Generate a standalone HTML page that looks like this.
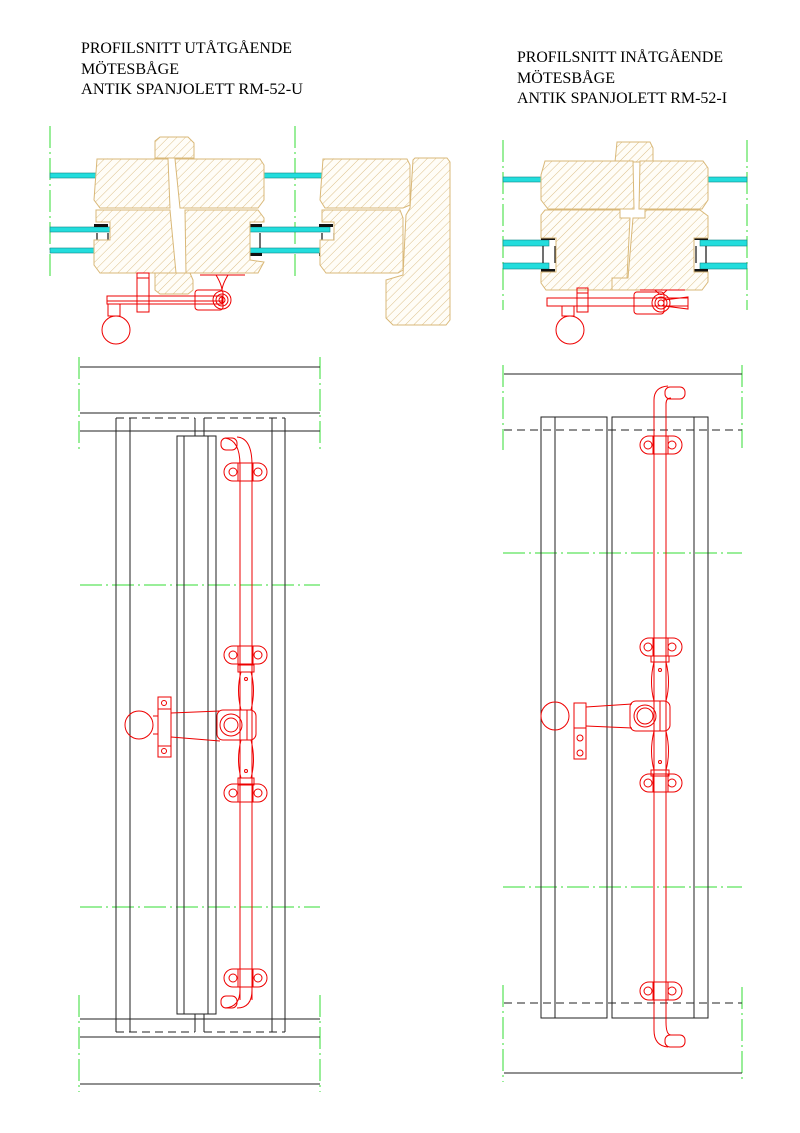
<!DOCTYPE html>
<html><head><meta charset="utf-8"><style>
html,body{margin:0;padding:0;background:#fff}
svg{display:block}
text{font-family:"Liberation Serif",serif;font-size:16px;fill:#000}
</style></head><body>
<svg width="800" height="1133" viewBox="0 0 800 1133" xmlns="http://www.w3.org/2000/svg">
<defs>
<pattern id="h" patternUnits="userSpaceOnUse" width="6" height="6" patternTransform="rotate(45)">
<rect width="6" height="6" fill="#fffdf7"/><line x1="0" y1="0" x2="0" y2="6" stroke="#dcc08a" stroke-width="1"/>
</pattern>
</defs>

<!-- titles -->
<text x="81" y="53" textLength="211" lengthAdjust="spacingAndGlyphs">PROFILSNITT UTÅTGÅENDE</text>
<text x="81" y="74" textLength="98" lengthAdjust="spacingAndGlyphs">MÖTESBÅGE</text>
<text x="81" y="94" textLength="222" lengthAdjust="spacingAndGlyphs">ANTIK SPANJOLETT RM-52-U</text>
<text x="517" y="62" textLength="206" lengthAdjust="spacingAndGlyphs">PROFILSNITT INÅTGÅENDE</text>
<text x="517" y="83" textLength="98" lengthAdjust="spacingAndGlyphs">MÖTESBÅGE</text>
<text x="517" y="103" textLength="210" lengthAdjust="spacingAndGlyphs">ANTIK SPANJOLETT RM-52-I</text>

<!-- ============ LEFT PROFILE ============ -->
<g stroke="#33dd33" stroke-width="1" stroke-dasharray="22,4,2,4" fill="none">
<line x1="50" y1="126" x2="50" y2="278"/><line x1="295" y1="126" x2="295" y2="278"/>
<line x1="503" y1="140" x2="503" y2="310"/><line x1="747" y1="140" x2="747" y2="310"/>
</g>
<g fill="#22dddd" stroke="#118888" stroke-width="0.6">
<rect x="50" y="173" width="55" height="5"/><rect x="250" y="173" width="80" height="5"/>
<rect x="50" y="227" width="60" height="5"/><rect x="50" y="248" width="60" height="5"/>
<rect x="247" y="227" width="83" height="5"/><rect x="247" y="248" width="83" height="5"/>
<rect x="503" y="177" width="52" height="5"/><rect x="695" y="177" width="52" height="5"/>
<rect x="503" y="240" width="46" height="6"/><rect x="503" y="263" width="46" height="6"/>
<rect x="700" y="240" width="47" height="6"/><rect x="700" y="263" width="47" height="6"/>
</g>
<g fill="#ccc"><polygon points="97,172 108,158 108,172"/><polygon points="250,172 260,158 262,172"/><polygon points="323,172 334,158 334,172"/>
<polygon points="545,176 556,162 556,176"/><polygon points="694,162 706,176 694,176"/></g>
<g stroke="#111" stroke-width="1.2" fill="none">
<line x1="97" y1="233" x2="97" y2="248"/><line x1="108" y1="233" x2="108" y2="248"/>
<line x1="248" y1="233" x2="248" y2="248"/><line x1="260" y1="233" x2="260" y2="248"/>
<line x1="322" y1="233" x2="322" y2="248"/><line x1="334" y1="233" x2="334" y2="248"/>
<line x1="543" y1="246" x2="543" y2="263"/><line x1="555" y1="246" x2="555" y2="263"/>
<line x1="696" y1="246" x2="696" y2="263"/><line x1="706" y1="246" x2="706" y2="263"/>
</g>
<g fill="#111"><rect x="94" y="224" width="14" height="3"/><rect x="94" y="253" width="14" height="3"/>
<rect x="248" y="224" width="14" height="3"/><rect x="248" y="253" width="14" height="3"/>
<rect x="319" y="224" width="14" height="3"/><rect x="319" y="253" width="14" height="3"/>
<rect x="541" y="237" width="14" height="3"/><rect x="541" y="269" width="14" height="3"/>
<rect x="694" y="237" width="14" height="3"/><rect x="694" y="269" width="14" height="3"/></g>

<g fill="url(#h)" stroke="#d9b878" stroke-width="1">
<path d="M155,141 L160,137 L188,137 L194,143 L194,158 L155,158 Z"/>
<path d="M97,159 L168,159 L170,208 L100,208 L94,200 Z"/>
<path d="M175,159 L260,159 L264,165 L264,200 L258,208 L180,208 Z"/>
<path d="M96,210 L170,210 L176,273 L100,273 L94,265 L94,240 L110,240 L110,222 L96,222 Z"/>
<path d="M185,210 L258,210 L264,218 L264,222 L250,222 L250,260 L264,262 L258,273 L186,273 Z"/>
<path d="M155,273 L190,273 L193,280 L193,290 L188,294 L160,294 L155,290 Z"/>
<path d="M323,159 L407,159 L410,165 L410,205 L403,208 L325,208 L320,200 Z"/>
<path d="M322,210 L400,210 L403,218 L403,270 L398,273 L326,273 L320,265 L320,240 L334,240 L334,222 L322,222 Z"/>
<path d="M415,158 L447,158 L450,162 L450,320 L446,325 L393,325 L386,318 L386,280 L403,275 L406,215 L410,208 L413,160 Z"/>
<!-- right profile -->
<path d="M617,142 L650,142 L653,148 L653,162 L615,162 Z"/>
<path d="M545,161 L633,161 L634,209 L548,209 L541,200 L541,175 Z"/>
<path d="M640,161 L703,161 L708,168 L708,200 L702,209 L639,209 Z"/>
<path d="M545,210 L620,210 L620,218 L630,218 L627,278 L618,278 L618,290 L546,290 L541,283 L541,272 L556,272 L556,238 L541,238 L541,215 Z"/>
<path d="M645,210 L700,210 L708,216 L708,238 L694,238 L694,272 L708,272 L708,282 L702,290 L612,290 L612,278 L628,278 L633,218 L645,218 Z"/>
</g>

<!-- red handle left profile -->
<g stroke="#e00" stroke-width="1" fill="none">
<rect x="107" y="296" width="115" height="8"/>
<line x1="107" y1="301" x2="222" y2="301"/>
<rect x="137" y="273" width="12" height="39"/><line x1="137" y1="278" x2="149" y2="278"/>
<rect x="108" y="304" width="12" height="12"/>
<circle cx="116" cy="330" r="14"/>
<rect x="195" y="290" width="28" height="20" rx="3"/>
<circle cx="222" cy="300" r="9"/><circle cx="222" cy="300" r="6"/><circle cx="222" cy="300" r="3"/>
<line x1="200" y1="275" x2="245" y2="275"/><path d="M216,275 Q222,285 222,291 Q222,285 228,275"/>
<!-- right profile handle -->
<rect x="547" y="298" width="141" height="8"/>
<rect x="577" y="288" width="11" height="24"/><line x1="577" y1="293" x2="588" y2="293"/>
<rect x="562" y="306" width="12" height="10"/>
<circle cx="570" cy="330" r="14"/>
<rect x="634" y="292" width="30" height="22" rx="3"/>
<circle cx="661" cy="303" r="9"/><circle cx="661" cy="303" r="6"/><circle cx="661" cy="303" r="3"/>
<path d="M664,300 L688,297 L688,309 L664,306"/>
<line x1="640" y1="290" x2="685" y2="290"/><path d="M655,290 Q661,296 661,294 Q661,296 667,290"/>
</g>

<!-- ============ LEFT ELEVATION ============ -->
<g stroke="#33dd33" stroke-width="1" stroke-dasharray="22,4,2,4" fill="none">
<line x1="79" y1="357" x2="79" y2="450"/><line x1="320" y1="357" x2="320" y2="450"/>
<line x1="79" y1="995" x2="79" y2="1092"/><line x1="320" y1="995" x2="320" y2="1092"/>
<line x1="80" y1="585" x2="320" y2="585"/><line x1="80" y1="907" x2="320" y2="907"/>
<line x1="503" y1="365" x2="503" y2="450"/><line x1="742" y1="365" x2="742" y2="448"/>
<line x1="503" y1="985" x2="503" y2="1082"/><line x1="742" y1="987" x2="742" y2="1082"/>
<line x1="503" y1="553" x2="742" y2="553"/><line x1="503" y1="887" x2="742" y2="887"/>
</g>
<g stroke="#222" stroke-width="1" fill="none">
<line x1="80" y1="367" x2="320" y2="367"/><line x1="80" y1="413" x2="320" y2="413"/><line x1="80" y1="431" x2="320" y2="431"/>
<line x1="80" y1="1019" x2="320" y2="1019"/><line x1="80" y1="1037" x2="320" y2="1037"/><line x1="80" y1="1084" x2="320" y2="1084"/>
<line x1="116" y1="418" x2="116" y2="1032"/><line x1="130" y1="418" x2="130" y2="1032"/>
<line x1="272" y1="418" x2="272" y2="1032"/><line x1="285" y1="418" x2="285" y2="1032"/>
<line x1="195" y1="418" x2="195" y2="436"/><line x1="204" y1="418" x2="204" y2="436"/>
<line x1="195" y1="1014" x2="195" y2="1032"/><line x1="204" y1="1014" x2="204" y2="1032"/>
<rect x="177" y="436" width="39" height="578"/>
<line x1="184" y1="436" x2="184" y2="1014"/><line x1="208" y1="436" x2="208" y2="1014"/>
<g stroke-dasharray="8,5">
<line x1="116" y1="418" x2="195" y2="418"/><line x1="204" y1="418" x2="285" y2="418"/>
<line x1="116" y1="1032" x2="195" y2="1032"/><line x1="204" y1="1032" x2="285" y2="1032"/>
</g>
<!-- right elevation -->
<line x1="504" y1="374" x2="742" y2="374"/><line x1="504" y1="1073" x2="742" y2="1073"/>
<line x1="504" y1="430" x2="742" y2="430" stroke-dasharray="8,5"/>
<line x1="504" y1="1003" x2="742" y2="1003" stroke-dasharray="8,5"/>
<rect x="541" y="417" width="66" height="601"/><line x1="555" y1="417" x2="555" y2="1018"/>
<rect x="612" y="417" width="96" height="601"/><line x1="694" y1="417" x2="694" y2="1018"/>
</g>

<!-- red espagnolette left -->
<g stroke="#e00" stroke-width="1" fill="none">
<path d="M240,1000 L240,465 Q240,440 225,438"/>
<path d="M252,1000 L252,465 Q252,438 237,437"/>
<rect x="221" y="438" width="16" height="12" rx="5"/>
<path d="M240,960 L240,990 Q240,1007 225,1008"/><path d="M252,960 L252,990 Q252,1008 237,1008"/>
<rect x="221" y="996" width="16" height="12" rx="5"/>
<g id="plL">
<rect x="224" y="463" width="43" height="18" rx="9"/><rect x="238" y="463" width="15" height="18"/>
<circle cx="233" cy="472" r="4"/><circle cx="258" cy="472" r="4"/>
</g>
<use href="#plL" y="183"/><use href="#plL" y="321"/><use href="#plL" y="506"/>
<!-- center knob -->
<path d="M238,665 L254,665 L254,672 L238,672 Z"/>
<path d="M241,672 Q236,690 241,710 M251,672 Q256,690 251,710"/>
<path d="M241,740 Q236,760 241,778 M251,740 Q256,760 251,778"/>
<path d="M238,778 L254,778 L254,785 L238,785 Z"/>
<circle cx="246" cy="679" r="1.5"/><circle cx="246" cy="771" r="1.5"/>
<rect x="217" y="710" width="39" height="30" rx="6"/><line x1="247" y1="710" x2="247" y2="740"/>
<circle cx="231" cy="725" r="11"/><circle cx="231" cy="725" r="7"/>
<path d="M171,713 L220,711 M171,737 L220,741"/>
<rect x="158" y="697" width="13" height="60"/><line x1="158" y1="709" x2="171" y2="709"/><line x1="158" y1="746" x2="171" y2="746"/>
<circle cx="164" cy="703" r="2.5"/><circle cx="164" cy="751" r="2.5"/>
<circle cx="139" cy="725" r="14"/><line x1="153" y1="716" x2="158" y2="716"/><line x1="153" y1="734" x2="158" y2="734"/>
</g>

<!-- red espagnolette right -->
<g stroke="#e00" stroke-width="1" fill="none">
<path d="M654,1030 L654,400 Q654,387 668,386"/>
<path d="M666,1022 L666,404 Q666,398 671,398"/>
<rect x="665" y="387" width="20" height="12" rx="5"/>
<path d="M654,1030 Q654,1046 668,1047"/><path d="M666,1022 Q666,1035 671,1035"/>
<rect x="665" y="1035" width="20" height="12" rx="5"/>
<g id="plR">
<rect x="640" y="436" width="42" height="18" rx="9"/><rect x="653" y="436" width="15" height="18"/>
<circle cx="648" cy="445" r="4"/><circle cx="672" cy="445" r="4"/>
</g>
<use href="#plR" y="202"/><use href="#plR" y="338"/><use href="#plR" y="546"/>
<path d="M651,656 L669,656 L669,662 L651,662 Z"/>
<path d="M654,662 Q649,682 654,701 M666,662 Q671,682 666,701"/>
<path d="M654,731 Q649,752 654,770 M666,731 Q671,752 666,770"/>
<path d="M651,770 L669,770 L669,776 L651,776 Z"/>
<circle cx="660" cy="670" r="1.5"/><circle cx="660" cy="762" r="1.5"/>
<rect x="630" y="701" width="40" height="30" rx="6"/><line x1="660" y1="701" x2="660" y2="731"/>
<circle cx="645" cy="716" r="11"/><circle cx="645" cy="716" r="8"/>
<path d="M586,707 L632,704 M586,726 L632,728"/>
<rect x="574" y="703" width="12" height="56"/><line x1="574" y1="728" x2="586" y2="728"/>
<circle cx="580" cy="738" r="3"/><circle cx="580" cy="753" r="3"/>
<circle cx="555" cy="716" r="14"/>
</g>
</svg>
</body></html>
